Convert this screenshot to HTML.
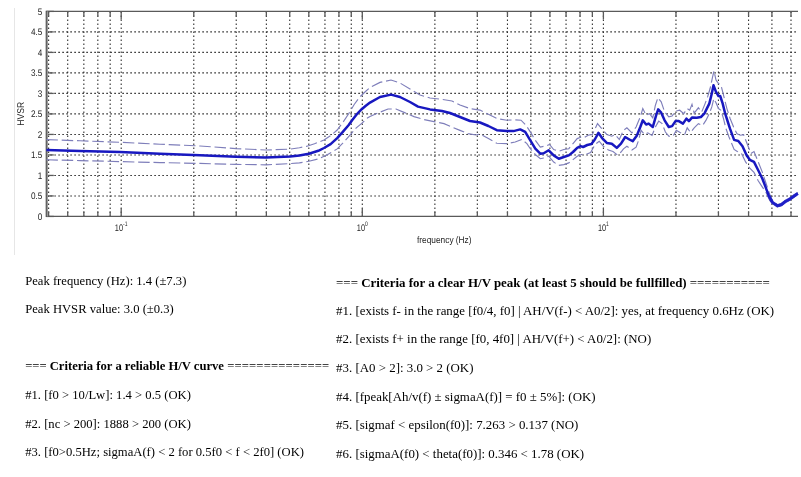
<!DOCTYPE html>
<html><head><meta charset="utf-8"><title>HVSR</title>
<style>
html,body{margin:0;padding:0;background:#fff;}
body{width:801px;height:477px;position:relative;overflow:hidden;}
.t{position:absolute;font-family:"Liberation Serif",serif;font-size:12.9px;line-height:16px;color:#000;white-space:nowrap;}
#wrap{position:absolute;left:0;top:0;width:801px;height:477px;will-change:transform;transform:translateZ(0);}
.L{font-size:12.64px;}.R{font-size:12.9px;}
</style></head><body>
<div id="wrap">
<svg width="801" height="477" viewBox="0 0 801 477" style="position:absolute;left:0;top:0"><rect width="801" height="477" fill="#fff"/><line x1="14.5" y1="8" x2="14.5" y2="255" stroke="#e6e6e6" stroke-width="1"/><g stroke="#303030" stroke-width="1.1" stroke-dasharray="1.6 2.4"><line x1="48.62" y1="11.4" x2="48.62" y2="216.45"/><line x1="67.71" y1="11.4" x2="67.71" y2="216.45"/><line x1="83.85" y1="11.4" x2="83.85" y2="216.45"/><line x1="97.83" y1="11.4" x2="97.83" y2="216.45"/><line x1="110.17" y1="11.4" x2="110.17" y2="216.45"/><line x1="121.20" y1="11.4" x2="121.20" y2="216.45"/><line x1="193.78" y1="11.4" x2="193.78" y2="216.45"/><line x1="236.23" y1="11.4" x2="236.23" y2="216.45"/><line x1="266.36" y1="11.4" x2="266.36" y2="216.45"/><line x1="289.72" y1="11.4" x2="289.72" y2="216.45"/><line x1="308.81" y1="11.4" x2="308.81" y2="216.45"/><line x1="324.95" y1="11.4" x2="324.95" y2="216.45"/><line x1="338.93" y1="11.4" x2="338.93" y2="216.45"/><line x1="351.27" y1="11.4" x2="351.27" y2="216.45"/><line x1="362.30" y1="11.4" x2="362.30" y2="216.45"/><line x1="434.88" y1="11.4" x2="434.88" y2="216.45"/><line x1="477.33" y1="11.4" x2="477.33" y2="216.45"/><line x1="507.46" y1="11.4" x2="507.46" y2="216.45"/><line x1="530.82" y1="11.4" x2="530.82" y2="216.45"/><line x1="549.91" y1="11.4" x2="549.91" y2="216.45"/><line x1="566.05" y1="11.4" x2="566.05" y2="216.45"/><line x1="580.03" y1="11.4" x2="580.03" y2="216.45"/><line x1="592.37" y1="11.4" x2="592.37" y2="216.45"/><line x1="603.40" y1="11.4" x2="603.40" y2="216.45"/><line x1="675.98" y1="11.4" x2="675.98" y2="216.45"/><line x1="718.43" y1="11.4" x2="718.43" y2="216.45"/><line x1="748.56" y1="11.4" x2="748.56" y2="216.45"/><line x1="771.92" y1="11.4" x2="771.92" y2="216.45"/><line x1="791.01" y1="11.4" x2="791.01" y2="216.45"/><line x1="46.3" y1="195.94" x2="798.0" y2="195.94"/><line x1="46.3" y1="175.44" x2="798.0" y2="175.44"/><line x1="46.3" y1="154.94" x2="798.0" y2="154.94"/><line x1="46.3" y1="134.43" x2="798.0" y2="134.43"/><line x1="46.3" y1="113.92" x2="798.0" y2="113.92"/><line x1="46.3" y1="93.42" x2="798.0" y2="93.42"/><line x1="46.3" y1="72.91" x2="798.0" y2="72.91"/><line x1="46.3" y1="52.41" x2="798.0" y2="52.41"/><line x1="46.3" y1="31.91" x2="798.0" y2="31.91"/></g><g stroke="#5a5a5a" stroke-width="1.3" fill="none"><path d="M798.0,11.4 L46.3,11.4 L46.3,216.45 L798.0,216.45"/><line x1="48.62" y1="216.45" x2="48.62" y2="211.45"/><line x1="48.62" y1="11.4" x2="48.62" y2="16.4"/><line x1="67.71" y1="216.45" x2="67.71" y2="211.45"/><line x1="67.71" y1="11.4" x2="67.71" y2="16.4"/><line x1="83.85" y1="216.45" x2="83.85" y2="211.45"/><line x1="83.85" y1="11.4" x2="83.85" y2="16.4"/><line x1="97.83" y1="216.45" x2="97.83" y2="211.45"/><line x1="97.83" y1="11.4" x2="97.83" y2="16.4"/><line x1="110.17" y1="216.45" x2="110.17" y2="211.45"/><line x1="110.17" y1="11.4" x2="110.17" y2="16.4"/><line x1="121.20" y1="216.45" x2="121.20" y2="208.45"/><line x1="121.20" y1="11.4" x2="121.20" y2="19.4"/><line x1="193.78" y1="216.45" x2="193.78" y2="211.45"/><line x1="193.78" y1="11.4" x2="193.78" y2="16.4"/><line x1="236.23" y1="216.45" x2="236.23" y2="211.45"/><line x1="236.23" y1="11.4" x2="236.23" y2="16.4"/><line x1="266.36" y1="216.45" x2="266.36" y2="211.45"/><line x1="266.36" y1="11.4" x2="266.36" y2="16.4"/><line x1="289.72" y1="216.45" x2="289.72" y2="211.45"/><line x1="289.72" y1="11.4" x2="289.72" y2="16.4"/><line x1="308.81" y1="216.45" x2="308.81" y2="211.45"/><line x1="308.81" y1="11.4" x2="308.81" y2="16.4"/><line x1="324.95" y1="216.45" x2="324.95" y2="211.45"/><line x1="324.95" y1="11.4" x2="324.95" y2="16.4"/><line x1="338.93" y1="216.45" x2="338.93" y2="211.45"/><line x1="338.93" y1="11.4" x2="338.93" y2="16.4"/><line x1="351.27" y1="216.45" x2="351.27" y2="211.45"/><line x1="351.27" y1="11.4" x2="351.27" y2="16.4"/><line x1="362.30" y1="216.45" x2="362.30" y2="208.45"/><line x1="362.30" y1="11.4" x2="362.30" y2="19.4"/><line x1="434.88" y1="216.45" x2="434.88" y2="211.45"/><line x1="434.88" y1="11.4" x2="434.88" y2="16.4"/><line x1="477.33" y1="216.45" x2="477.33" y2="211.45"/><line x1="477.33" y1="11.4" x2="477.33" y2="16.4"/><line x1="507.46" y1="216.45" x2="507.46" y2="211.45"/><line x1="507.46" y1="11.4" x2="507.46" y2="16.4"/><line x1="530.82" y1="216.45" x2="530.82" y2="211.45"/><line x1="530.82" y1="11.4" x2="530.82" y2="16.4"/><line x1="549.91" y1="216.45" x2="549.91" y2="211.45"/><line x1="549.91" y1="11.4" x2="549.91" y2="16.4"/><line x1="566.05" y1="216.45" x2="566.05" y2="211.45"/><line x1="566.05" y1="11.4" x2="566.05" y2="16.4"/><line x1="580.03" y1="216.45" x2="580.03" y2="211.45"/><line x1="580.03" y1="11.4" x2="580.03" y2="16.4"/><line x1="592.37" y1="216.45" x2="592.37" y2="211.45"/><line x1="592.37" y1="11.4" x2="592.37" y2="16.4"/><line x1="603.40" y1="216.45" x2="603.40" y2="208.45"/><line x1="603.40" y1="11.4" x2="603.40" y2="19.4"/><line x1="675.98" y1="216.45" x2="675.98" y2="211.45"/><line x1="675.98" y1="11.4" x2="675.98" y2="16.4"/><line x1="718.43" y1="216.45" x2="718.43" y2="211.45"/><line x1="718.43" y1="11.4" x2="718.43" y2="16.4"/><line x1="748.56" y1="216.45" x2="748.56" y2="211.45"/><line x1="748.56" y1="11.4" x2="748.56" y2="16.4"/><line x1="771.92" y1="216.45" x2="771.92" y2="211.45"/><line x1="771.92" y1="11.4" x2="771.92" y2="16.4"/><line x1="791.01" y1="216.45" x2="791.01" y2="211.45"/><line x1="791.01" y1="11.4" x2="791.01" y2="16.4"/><line x1="46.3" y1="216.45" x2="53.8" y2="216.45"/><line x1="46.3" y1="195.94" x2="53.8" y2="195.94"/><line x1="46.3" y1="175.44" x2="53.8" y2="175.44"/><line x1="46.3" y1="154.94" x2="53.8" y2="154.94"/><line x1="46.3" y1="134.43" x2="53.8" y2="134.43"/><line x1="46.3" y1="113.92" x2="53.8" y2="113.92"/><line x1="46.3" y1="93.42" x2="53.8" y2="93.42"/><line x1="46.3" y1="72.91" x2="53.8" y2="72.91"/><line x1="46.3" y1="52.41" x2="53.8" y2="52.41"/><line x1="46.3" y1="31.91" x2="53.8" y2="31.91"/><line x1="46.3" y1="11.40" x2="53.8" y2="11.40"/></g><line x1="47.5" y1="11.4" x2="47.5" y2="216.45" stroke="#9a9a9a" stroke-width="1"/><path d="M46.4,139.6 L80.0,140.8 L120.0,142.3 L160.0,144.2 L200.0,146.0 L236.0,148.6 L266.0,150.0 L290.0,149.2 L299.4,147.7 L307.0,146.2 L314.5,143.8 L324.0,140.0 L330.6,135.7 L337.2,130.0 L342.8,122.5 L348.5,114.0 L354.2,104.5 L359.8,97.0 L365.5,91.5 L370.0,87.6 L380.0,82.4 L391.0,80.0 L400.0,83.0 L410.0,89.0 L420.0,95.0 L430.0,98.0 L442.0,99.4 L452.0,101.0 L460.0,105.0 L470.0,108.6 L480.0,110.1 L488.4,114.3 L496.8,118.5 L506.8,120.2 L515.2,119.8 L521.0,120.2 L526.0,125.2 L530.3,131.9 L535.3,140.3 L540.3,147.0 L545.4,146.1 L549.5,144.5 L553.7,149.5 L558.8,151.2 L563.8,149.5 L568.8,148.7 L573.0,143.6 L577.2,138.6 L580.6,137.3 L583.9,137.8 L588.1,135.2 L592.3,134.4 L595.0,129.0 L597.5,123.6 L601.7,128.7 L606.8,134.5 L611.8,136.2 L615.1,134.5 L619.3,139.5 L623.5,130.3 L626.9,127.8 L631.9,132.8 L636.1,127.0 L640.3,116.9 L642.8,108.5 L646.1,115.2 L649.5,113.6 L652.8,117.8 L655.4,105.2 L657.9,97.7 L661.2,101.8 L664.6,111.9 L668.8,116.9 L672.1,116.1 L675.5,111.1 L679.7,110.2 L683.8,113.6 L687.2,108.5 L689.7,110.2 L692.0,104.4 L694.2,113.2 L698.4,107.8 L701.7,112.0 L705.1,103.6 L707.6,96.9 L710.1,88.5 L712.6,76.8 L714.0,70.9 L716.0,80.1 L718.5,83.5 L721.0,85.2 L723.5,95.2 L726.9,108.6 L730.2,118.7 L733.6,127.0 L737.0,133.8 L740.4,135.2 L743.6,134.7 L747.7,145.2 L750.9,153.5 L754.0,151.5 L758.2,161.9 L762.4,172.4 L766.6,185.0 L769.8,194.4 L772.5,201.5 L777.5,204.8 L781.5,203.6 L785.4,200.5 L789.6,198.2 L793.8,195.2 L797.8,192.5" fill="none" stroke="#7e7eba" stroke-width="1.15" stroke-dasharray="11.5 3.8"/><path d="M46.4,159.8 L80.0,160.6 L120.0,161.6 L160.0,162.6 L200.0,163.4 L236.0,164.4 L266.0,164.8 L290.0,163.6 L299.4,162.9 L308.9,161.3 L318.3,158.9 L327.7,154.5 L337.2,148.9 L342.8,143.2 L350.4,134.7 L356.0,128.1 L361.7,123.4 L367.4,118.0 L370.0,116.5 L378.0,113.0 L388.0,109.0 L396.0,109.0 L404.0,112.4 L414.0,116.6 L424.0,119.6 L434.0,121.6 L444.0,123.6 L452.0,127.0 L460.0,130.4 L468.0,133.6 L476.0,135.0 L480.0,133.9 L488.4,138.6 L496.8,143.3 L506.8,143.6 L515.2,142.0 L521.9,139.4 L526.9,143.6 L530.3,148.7 L535.3,154.5 L540.3,158.7 L544.5,157.9 L548.7,156.2 L553.7,162.1 L558.8,165.4 L563.8,164.6 L568.8,162.9 L573.0,159.6 L577.2,156.2 L581.4,154.5 L585.6,154.5 L590.6,152.5 L595.0,144.6 L599.2,141.2 L603.4,146.3 L608.4,150.0 L613.0,151.5 L617.5,155.0 L621.0,152.0 L623.5,148.8 L626.9,146.3 L631.9,150.0 L636.1,147.1 L638.6,140.4 L641.1,130.3 L644.5,134.5 L647.8,132.8 L652.0,135.4 L655.4,127.0 L658.7,121.1 L662.1,123.6 L665.4,132.0 L668.8,136.2 L673.0,136.2 L676.3,130.3 L680.5,132.8 L684.7,134.5 L687.2,127.8 L690.6,132.5 L694.2,127.9 L698.4,123.7 L702.6,125.4 L705.9,120.4 L709.3,113.7 L711.8,106.9 L713.8,98.6 L716.0,102.8 L718.5,108.6 L721.0,110.3 L723.5,118.7 L726.0,128.7 L728.9,136.8 L734.1,149.4 L737.3,151.5 L741.5,153.5 L745.6,161.9 L749.8,168.2 L754.0,172.4 L758.2,180.8 L762.4,187.1 L766.6,193.4 L769.8,200.7 L777.5,206.8 L781.5,205.6 L785.4,202.5 L789.6,200.2 L793.8,197.2 L797.8,194.5" fill="none" stroke="#7e7eba" stroke-width="1.15" stroke-dasharray="11.5 3.8"/><path d="M46.4,149.9 L80.0,150.9 L120.0,152.1 L160.0,153.7 L200.0,155.2 L236.0,156.7 L266.0,157.5 L290.0,156.6 L299.4,155.6 L308.9,153.7 L318.3,150.8 L324.0,148.0 L330.6,144.2 L337.2,138.1 L342.8,131.9 L348.5,125.3 L352.3,120.0 L357.0,114.0 L361.7,109.2 L365.5,106.0 L370.0,102.6 L380.0,97.0 L391.0,94.6 L400.0,97.0 L410.0,102.0 L418.0,106.6 L430.0,109.4 L442.0,111.0 L450.0,113.0 L460.0,117.0 L470.0,121.0 L480.0,122.5 L488.4,126.0 L496.8,130.2 L506.8,131.1 L513.5,131.1 L520.2,129.4 L525.2,131.9 L530.3,140.3 L535.3,148.7 L540.3,153.7 L543.7,153.3 L548.7,150.3 L553.7,155.4 L558.8,158.7 L563.8,157.0 L568.8,155.4 L573.0,152.0 L577.2,147.8 L580.6,146.1 L583.1,147.0 L587.3,145.0 L591.4,144.0 L594.8,139.5 L598.4,132.8 L602.6,138.7 L606.8,142.9 L611.8,143.7 L616.8,147.9 L621.0,143.7 L625.2,137.0 L629.4,139.5 L632.7,141.2 L636.9,135.4 L640.3,127.0 L642.8,120.3 L646.1,124.5 L648.7,123.6 L652.8,127.0 L656.2,115.2 L658.2,109.4 L661.2,112.7 L664.6,120.3 L668.8,127.0 L672.1,126.1 L675.5,121.1 L678.8,121.1 L683.0,123.6 L686.4,118.6 L688.9,121.1 L692.2,117.4 L696.7,117.8 L700.9,117.0 L704.3,113.7 L706.8,108.6 L709.3,103.6 L711.8,93.5 L713.5,85.2 L716.0,91.9 L718.5,96.0 L720.2,96.0 L722.7,103.6 L725.2,113.7 L727.7,121.5 L729.9,128.4 L734.1,139.9 L738.3,141.0 L742.5,146.2 L746.7,155.6 L749.8,159.8 L754.0,161.9 L758.2,170.3 L762.4,178.7 L765.6,187.1 L768.7,195.5 L772.5,202.5 L777.5,205.8 L781.5,204.6 L785.4,201.5 L789.6,199.2 L793.8,196.2 L797.8,193.5" fill="none" stroke="#1818c0" stroke-width="2.5" stroke-linejoin="round"/><path d="M768.7,195.5 L772.5,202.5 L777.5,205.8 L781.5,204.6 L785.4,201.5 L789.6,199.2 L793.8,196.2 L797.8,193.5" fill="none" stroke="#2222c8" stroke-width="3.2" stroke-linejoin="round" opacity="0.8"/><g font-family="Liberation Sans, sans-serif" font-size="9.5" fill="#242424" text-rendering="geometricPrecision"><text transform="translate(42.3,219.9) scale(0.86,1)" text-anchor="end">0</text><text transform="translate(42.3,199.4) scale(0.86,1)" text-anchor="end">0.5</text><text transform="translate(42.3,178.9) scale(0.86,1)" text-anchor="end">1</text><text transform="translate(42.3,158.4) scale(0.86,1)" text-anchor="end">1.5</text><text transform="translate(42.3,137.9) scale(0.86,1)" text-anchor="end">2</text><text transform="translate(42.3,117.4) scale(0.86,1)" text-anchor="end">2.5</text><text transform="translate(42.3,96.9) scale(0.86,1)" text-anchor="end">3</text><text transform="translate(42.3,76.4) scale(0.86,1)" text-anchor="end">3.5</text><text transform="translate(42.3,55.9) scale(0.86,1)" text-anchor="end">4</text><text transform="translate(42.3,35.4) scale(0.86,1)" text-anchor="end">4.5</text><text transform="translate(42.3,14.9) scale(0.86,1)" text-anchor="end">5</text><text transform="translate(121.2,230.9) scale(0.77,1)" text-anchor="middle" font-size="9.6">10<tspan dy="-5.2" font-size="6.5">-1</tspan></text><text transform="translate(362.3,230.9) scale(0.77,1)" text-anchor="middle" font-size="9.6">10<tspan dy="-5.2" font-size="6.5">0</tspan></text><text transform="translate(603.4,230.9) scale(0.77,1)" text-anchor="middle" font-size="9.6">10<tspan dy="-5.2" font-size="6.5">1</tspan></text><text transform="translate(444.3,243.3) scale(0.875,1)" text-anchor="middle">frequency (Hz)</text><text transform="translate(24.0,113.8) rotate(-90) scale(0.88,1)" text-anchor="middle" font-size="9.8">HVSR</text></g></svg>
<div class="t L" id="l0" style="left:25.2px;top:272.8px">Peak frequency (Hz): 1.4 (±7.3)</div><div class="t L" id="l1" style="left:25.2px;top:301px">Peak HVSR value: 3.0 (±0.3)</div><div class="t L" id="l2" style="left:25.2px;top:358.3px">=== <b>Criteria for a reliable H/V curve</b> <span style="letter-spacing:0.18px">==============</span></div><div class="t L" id="l3" style="left:25.2px;top:387px">#1. [f0 &gt; 10/Lw]: 1.4 &gt; 0.5 (OK)</div><div class="t L" id="l4" style="left:25.2px;top:415.6px">#2. [nc &gt; 200]: 1888 &gt; 200 (OK)</div><div class="t L" id="l5" style="left:25.2px;top:443.6px">#3. [f0&gt;0.5Hz; sigmaA(f) &lt; 2 for 0.5f0 &lt; f &lt; 2f0] (OK)</div><div class="t R" id="r0" style="left:336.1px;top:274.6px">=== <b>Criteria for a clear H/V peak (at least 5 should be fullfilled)</b> ===========</div><div class="t R" id="r1" style="left:336.1px;top:302.5px">#1. [exists f- in the range [f0/4, f0] | AH/V(f-) &lt; A0/2]: yes, at frequency 0.6Hz (OK)</div><div class="t R" id="r2" style="left:336.1px;top:331.0px">#2. [exists f+ in the range [f0, 4f0] | AH/V(f+) &lt; A0/2]: (NO)</div><div class="t R" id="r3" style="left:336.1px;top:359.8px">#3. [A0 &gt; 2]: 3.0 &gt; 2 (OK)</div><div class="t R" id="r4" style="left:336.1px;top:388.5px">#4. [fpeak[Ah/v(f) ± sigmaA(f)] = f0 ± 5%]: (OK)</div><div class="t R" id="r5" style="left:336.1px;top:416.8px">#5. [sigmaf &lt; epsilon(f0)]: 7.263 &gt; 0.137 (NO)</div><div class="t R" id="r6" style="left:336.1px;top:446px">#6. [sigmaA(f0) &lt; theta(f0)]: 0.346 &lt; 1.78 (OK)</div>
</div>
</body></html>
